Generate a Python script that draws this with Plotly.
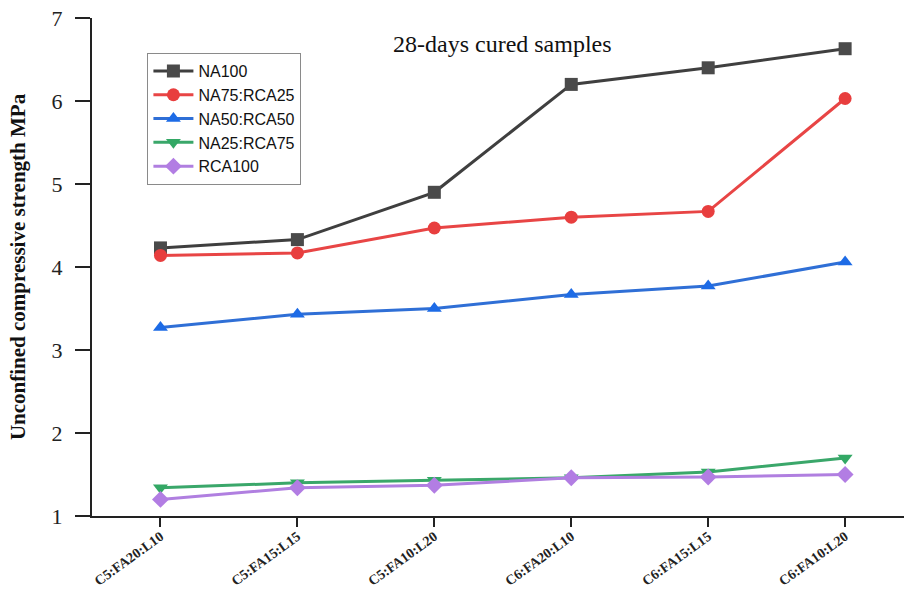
import plotly.graph_objects as go

categories = ["C5:FA20:L10", "C5:FA15:L15", "C5:FA10:L20",
              "C6:FA20:L10", "C6:FA15:L15", "C6:FA10:L20"]

na100 = [4.23, 4.33, 4.90, 6.20, 6.40, 6.63]
na75_rca25 = [4.14, 4.17, 4.47, 4.60, 4.67, 6.03]
na50_rca50 = [3.27, 3.43, 3.50, 3.67, 3.77, 4.06]
na25_rca75 = [1.34, 1.40, 1.43, 1.46, 1.53, 1.70]
rca100 = [1.20, 1.34, 1.37, 1.46, 1.47, 1.50]

series = [
    ("NA100", na100, "#3f3f3f", "#4a4a4a", "square"),
    ("NA75:RCA25", na75_rca25, "#e84545", "#e83e3e", "circle"),
    ("NA50:RCA50", na50_rca50, "#2f6fd6", "#1d6be6", "triangle-up"),
    ("NA25:RCA75", na25_rca75, "#3aa76a", "#33a865", "triangle-down"),
    ("RCA100", rca100, "#b07fe0", "#b27de3", "diamond"),
]

x_idx = list(range(len(categories)))

fig = go.Figure()
for name, vals, lc, mc, sym in series:
    fig.add_trace(go.Scatter(
        x=x_idx, y=vals, name=name, mode="lines+markers",
        line=dict(color=lc, width=3),
        marker=dict(symbol=sym, size=13, color=mc),
    ))

# panel title
fig.add_annotation(
    x=0.505, y=0.948, xref="paper", yref="paper", xanchor="center", yanchor="middle",
    text="28-days cured samples", showarrow=False,
    font=dict(family="Liberation Serif", size=24, color="#111"),
)

# y-axis title, placed close to the left edge
fig.add_annotation(
    x=-0.091, y=0.5, xref="paper", yref="paper", xanchor="center", yanchor="middle",
    text="<b>Unconfined compressive strength MPa</b>", textangle=-90, showarrow=False,
    font=dict(family="Liberation Serif", size=21, color="#111"),
)

fig.update_layout(
    width=904, height=594,
    margin=dict(l=92, r=0, t=18, b=78, autoexpand=False),
    paper_bgcolor="white", plot_bgcolor="white",
    showlegend=True,
    legend=dict(
        x=0.068, y=0.93, xanchor="left", yanchor="top",
        bordercolor="#8a8a8a", borderwidth=1.2, bgcolor="white",
        font=dict(family="Liberation Sans", size=16, color="#111"),
        itemwidth=40, tracegroupgap=0,
    ),
    xaxis=dict(
        range=[-0.5, 5.43], tickmode="array", tickvals=x_idx,
        ticktext=["<b>%s</b>" % c for c in categories],
        tickangle=-36, showgrid=False, zeroline=False, automargin=False,
        showline=True, linecolor="#222", linewidth=2,
        ticks="outside", ticklen=9, tickwidth=2, tickcolor="#222",
        ticklabelstandoff=-4,
        tickfont=dict(family="Liberation Serif", size=14, color="#222"),
    ),
    yaxis=dict(
        range=[1, 7], dtick=1, showgrid=False, zeroline=False, automargin=False,
        showline=True, linecolor="#222", linewidth=2,
        ticks="outside", ticklen=15, tickwidth=2, tickcolor="#222",
        ticklabelstandoff=8,
        tickfont=dict(family="Liberation Serif", size=22, color="#222"),
    ),
)

fig.write_html("out.html")
